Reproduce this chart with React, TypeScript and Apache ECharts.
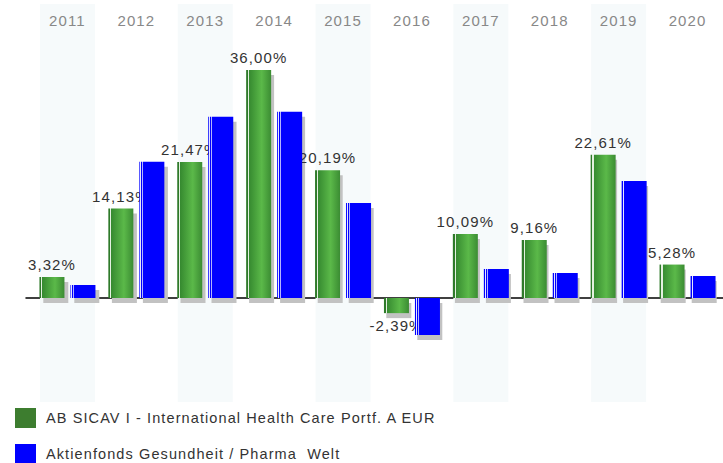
import React, { useEffect, useRef } from "react";
import * as echarts from "echarts";

const years = ["2011", "2012", "2013", "2014", "2015", "2016", "2017", "2018", "2019", "2020"];
const fundValues = [3.32, 14.13, 21.47, 36.0, 20.19, -2.39, 10.09, 9.16, 22.61, 5.28];
const benchmarkValues = [2.05, 21.5, 28.6, 29.4, 15.0, -5.84, 4.58, 3.95, 18.47, 3.47];
const bandFlags = [1, 0, 1, 0, 1, 0, 1, 0, 1, 0];
const fundName = "AB SICAV I - International Health Care Portf. A EUR";
const benchName = "Aktienfonds Gesundheit / Pharma  Welt";

const FONT = "'Liberation Sans', Arial, sans-serif";
const Y_MIN = -16.42;
const Y_MAX = 46.42;

const greenGrad = new echarts.graphic.LinearGradient(0, 0, 1, 0, [
  { offset: 0, color: "#2f7a2a" },
  { offset: 0.07, color: "#2f7a2a" },
  { offset: 0.07, color: "#e4f0e0" },
  { offset: 0.12, color: "#e4f0e0" },
  { offset: 0.12, color: "#368a30" },
  { offset: 0.62, color: "#5bb949" },
  { offset: 1, color: "#3b8c33" },
]);

const blueGrad = new echarts.graphic.LinearGradient(0, 0, 1, 0, [
  { offset: 0, color: "#0000ff" },
  { offset: 0.04, color: "#0000ff" },
  { offset: 0.04, color: "#e6e6ff" },
  { offset: 0.08, color: "#e6e6ff" },
  { offset: 0.08, color: "#0000ff" },
  { offset: 0.12, color: "#0000ff" },
  { offset: 0.12, color: "#b4b4ff" },
  { offset: 0.15, color: "#b4b4ff" },
  { offset: 0.15, color: "#0000ff" },
  { offset: 1, color: "#0000ff" },
]);

const fmt = (v: number) => v.toFixed(2).replace(".", ",") + "%";

export default function App() {
  const ref = useRef<HTMLDivElement>(null);
  useEffect(() => {
    if (!ref.current) return;
    const chart = echarts.init(ref.current, null, { renderer: "svg" });
    const SHADOW = "#c2c2c2";
    chart.setOption({
      animation: false,
      textStyle: { fontFamily: FONT },
      grid: [
        { left: 33, right: 1, top: 4, bottom: 61, containLabel: false },
        { left: 26, right: 0, top: 4, bottom: 61, containLabel: false },
        // shadow grid: same scale, shifted 4px right and 5px down
        { left: 37, right: -3, top: 9, bottom: 56, containLabel: false },
      ],
      legend: {
        orient: "vertical",
        left: 15,
        top: 408,
        height: 80,
        padding: 0,
        itemWidth: 21,
        itemHeight: 20,
        itemGap: 16,
        icon: "rect",
        textStyle: { fontFamily: FONT, fontSize: 14.5, color: "#333", padding: [0, 0, 0, 5] },
        data: [
          { name: fundName, itemStyle: { color: "#3d7d2f" } },
          { name: benchName, itemStyle: { color: "#0000ff" } },
        ],
      },
      xAxis: [
        {
          type: "category",
          gridIndex: 0,
          data: years,
          position: "top",
          axisLine: { show: false },
          axisTick: { show: false },
          splitLine: { show: false },
          axisLabel: { inside: true, margin: 9, color: "#888", fontSize: 15, fontFamily: FONT },
        },
        {
          type: "category",
          gridIndex: 0,
          data: years,
          show: false,
        },
        {
          type: "category",
          gridIndex: 1,
          data: years,
          axisLine: { show: true, onZero: true, lineStyle: { color: "#000", width: 1.5 } },
          axisTick: { show: false },
          axisLabel: { show: false },
          splitLine: { show: false },
        },
        {
          type: "category",
          gridIndex: 2,
          data: years,
          show: false,
        },
      ],
      yAxis: [
        { type: "value", gridIndex: 0, min: Y_MIN, max: Y_MAX, show: false, splitLine: { show: false } },
        { type: "value", gridIndex: 0, min: 0, max: 1, show: false, splitLine: { show: false } },
        { type: "value", gridIndex: 1, min: Y_MIN, max: Y_MAX, show: false, splitLine: { show: false } },
        { type: "value", gridIndex: 2, min: Y_MIN, max: Y_MAX, show: false, splitLine: { show: false } },
      ],
      series: [
        {
          type: "bar",
          name: "bands",
          xAxisIndex: 1,
          yAxisIndex: 1,
          data: bandFlags,
          barWidth: 55,
          z: 0,
          silent: true,
          itemStyle: { color: "#f6fafb" },
        },
        {
          type: "bar",
          name: "fundShadow",
          xAxisIndex: 3,
          yAxisIndex: 3,
          data: fundValues,
          barWidth: 25,
          barGap: "24%",
          z: 1,
          silent: true,
          itemStyle: { color: SHADOW },
        },
        {
          type: "bar",
          name: "benchShadow",
          xAxisIndex: 3,
          yAxisIndex: 3,
          data: benchmarkValues,
          barWidth: 25,
          barGap: "24%",
          z: 1,
          silent: true,
          itemStyle: { color: SHADOW },
        },
        {
          type: "bar",
          name: fundName,
          xAxisIndex: 0,
          yAxisIndex: 0,
          barWidth: 25,
          barGap: "24%",
          z: 2,
          itemStyle: { color: greenGrad },
          data: fundValues.map((v) => ({
            value: v,
            label: { position: v < 0 ? "bottom" : "top" },
          })),
          label: {
            show: true,
            distance: 5,
            color: "#333",
            fontSize: 15,
            fontFamily: FONT,
            formatter: (p: any) => fmt(p.value),
          },
        },
        {
          type: "bar",
          name: benchName,
          xAxisIndex: 0,
          yAxisIndex: 0,
          barWidth: 25,
          barGap: "24%",
          z: 3,
          itemStyle: { color: blueGrad },
          data: benchmarkValues,
        },
      ],
    });
    return () => chart.dispose();
  }, []);
  return (
    <>
      <style>{`.perf-chart svg text { letter-spacing: 1.1px; }`}</style>
      <div
        ref={ref}
        className="perf-chart"
        style={{ position: "absolute", left: 0, top: 0, width: 723, height: 463, background: "#fff" }}
      />
    </>
  );
}
